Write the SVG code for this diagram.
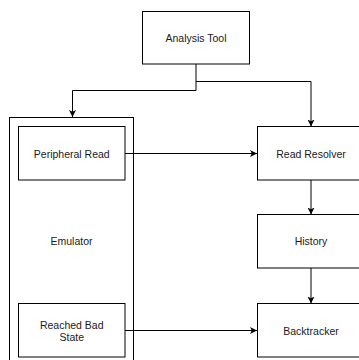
<svg xmlns="http://www.w3.org/2000/svg" width="359" height="360" viewBox="0 0 359 360">
  <style>
    .box { fill: #ffffff; stroke: #000000; stroke-width: 1; }
    .label { font-family: "Liberation Sans", Arial, sans-serif; font-size: 10.5px; fill: #1a1a1a; text-anchor: middle; dominant-baseline: central; }
    .edge { fill: none; stroke: #000000; stroke-width: 1; marker-end: url(#arrow); }
  </style>
  <defs>
    <marker id="arrow" markerUnits="userSpaceOnUse" markerWidth="10" markerHeight="10" refX="7" refY="3.5" orient="auto">
      <path d="M0,0 L7,3.5 L0,7 L1.8,3.5 Z" fill="#000000"/>
    </marker>
  </defs>
  <rect width="359" height="360" fill="#ffffff"/>

  <g id="emulator">
    <rect class="box" x="9.5" y="117.5" width="124" height="260"/>
    <text class="label" x="71.5" y="241">Emulator</text>
  </g>

  <g id="analysis-tool">
    <rect class="box" x="142.5" y="11.5" width="107" height="52.5"/>
    <text class="label" x="196" y="38">Analysis Tool</text>
  </g>

  <g id="peripheral-read">
    <rect class="box" x="18.5" y="126.5" width="106.5" height="53.5"/>
    <text class="label" x="71.75" y="153.5">Peripheral Read</text>
  </g>

  <g id="reached-bad-state">
    <rect class="box" x="18.5" y="303.5" width="106.5" height="53.5"/>
    <text class="label" x="71.75" y="324.5">Reached Bad</text>
    <text class="label" x="71.75" y="337">State</text>
  </g>

  <g id="read-resolver">
    <rect class="box" x="257.5" y="126.5" width="107" height="53.5"/>
    <text class="label" x="311" y="153.5">Read Resolver</text>
  </g>

  <g id="history">
    <rect class="box" x="257.5" y="214.5" width="107" height="53.5"/>
    <text class="label" x="311" y="241">History</text>
  </g>

  <g id="backtracker">
    <rect class="box" x="257.5" y="303.5" width="107" height="53.5"/>
    <text class="label" x="311" y="330.5">Backtracker</text>
  </g>

  <g id="connectors">
    <path class="edge" d="M196,64 V90.5 H72.5 V117"/>
    <path class="edge" d="M196,81.5 H311 V126.5"/>
    <path class="edge" d="M125,153.5 H257"/>
    <path class="edge" d="M311,180 V214.5"/>
    <path class="edge" d="M311,268 V303.5"/>
    <path class="edge" d="M125,330.5 H257"/>
  </g>
</svg>
